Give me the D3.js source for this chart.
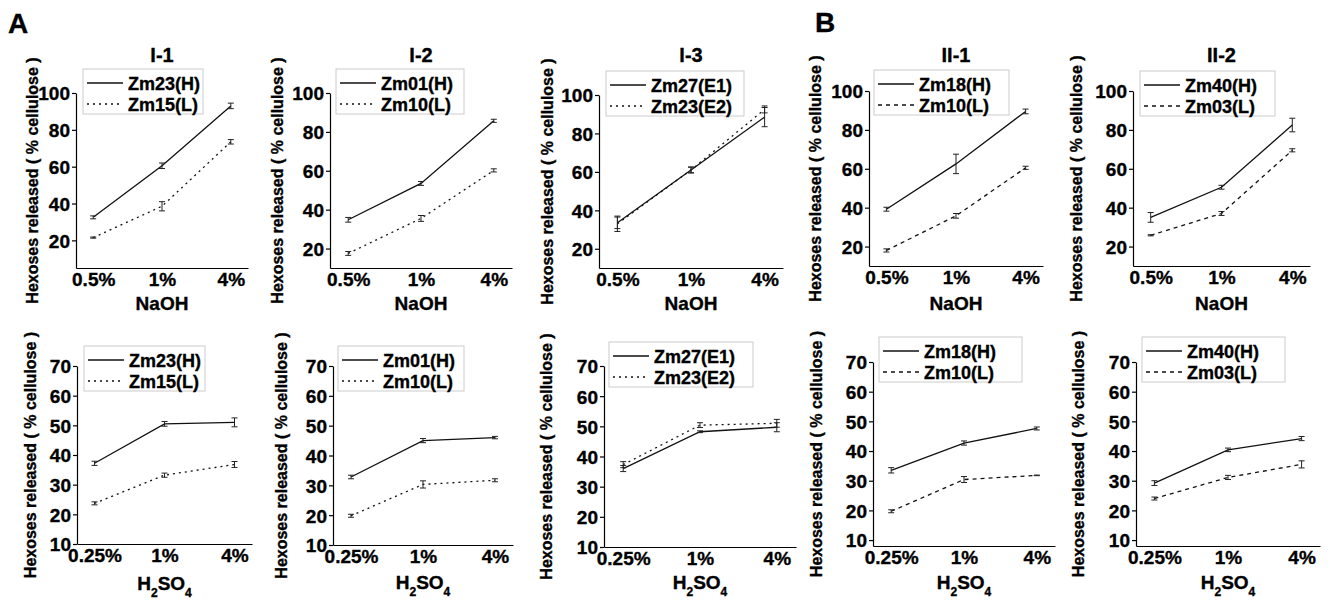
<!DOCTYPE html>
<meta charset="utf-8">
<style>
body { margin: 0; background: #fff; }
svg { font-family: Arial, "Liberation Sans", sans-serif; font-weight: bold; }
svg text { stroke: #000; stroke-width: 0.35px; }
.axis path, .axis line { stroke: #000; stroke-width: 1.2px; }
.axis text { font-size: 19px; font-weight: bold; fill: #000; }
.series { fill: none; stroke: #111; stroke-width: 1.3px; }
.err { stroke: #222; stroke-width: 1px; }
.legbox { fill: #fff; stroke: #ccc; stroke-width: 1px; }
</style>
<body>
<script src="https://d3js.org/d3.v7.min.js"></script>
<script>

// tick labels
var naohLevels = ["0.5%", "1%", "4%"];
var acidLevels = ["0.25%", "1%", "4%"];

// panel titles and legend names
var titles = ["I-1", "I-2", "I-3", "II-1", "II-2"];
var namesHi = ["Zm23(H)", "Zm01(H)", "Zm27(E1)", "Zm18(H)", "Zm40(H)"];
var namesLo = ["Zm15(L)", "Zm10(L)", "Zm23(E2)", "Zm10(L)", "Zm03(L)"];

// NaOH pretreatment, hexoses released (% cellulose)
var naohHi = [[32.5, 60.5, 93.0], [34.8, 53.5, 85.7], [33.5, 61.0, 88.5], [39.2, 62.5, 89.5], [35.0, 50.5, 82.5]];
var naohHiErr = [[0.8, 1.5, 1.5], [1.2, 1.0, 0.8], [3.0, 1.5, 5.0], [1.0, 5.0, 1.2], [2.5, 1.0, 3.5]];
var naohLo = [[21.5, 38.5, 73.5], [17.5, 35.5, 60.2], [33.0, 61.0, 92.5], [18.0, 35.8, 60.5], [25.8, 37.0, 69.5]];
var naohLoErr = [[0.3, 2.5, 1.2], [1.0, 1.5, 0.8], [4.0, 1.5, 1.8], [0.8, 1.2, 0.8], [0.3, 1.0, 0.8]];

// H2SO4 pretreatment
var acidHi = [[37.2, 50.5, 51.0], [32.8, 45.0, 46.0], [36.0, 48.2, 49.7], [33.5, 42.7, 47.6], [29.2, 40.4, 44.2]];
var acidHiErr = [[0.7, 0.8, 1.5], [0.6, 0.7, 0.4], [1.0, 0.3, 1.5], [0.9, 0.7, 0.5], [0.8, 0.6, 0.7]];
var acidLo = [[23.7, 33.2, 36.8], [19.8, 30.3, 31.7], [37.3, 50.4, 51.0], [19.7, 30.4, 31.8], [24.0, 31.1, 35.5]];
var acidLoErr = [[0.5, 0.7, 1.0], [0.5, 1.2, 0.5], [1.0, 0.8, 1.3], [0.5, 1.0, 0.1], [0.5, 0.7, 1.2]];

// y ticks
var naohTicks = [20, 40, 60, 80, 100];
var acidTicks = [10, 20, 30, 40, 50, 60, 70];

// layout: plot frames in page pixels
var topFrames = [
  {x0: 76, x1: 248, yt: 93, yb: 268, ymin: 5, ymax: 100, lx: 83, ly: 69, lw: 120, yl: 32, xl: 310},
  {x0: 330, x1: 512, yt: 93, yb: 268, ymin: 10, ymax: 100, lx: 336, ly: 69, lw: 128, yl: 277, xl: 310},
  {x0: 599, x1: 783, yt: 95, yb: 268, ymin: 10, ymax: 100, lx: 606, ly: 71, lw: 138, yl: 547, xl: 310},
  {x0: 869, x1: 1043, yt: 91, yb: 266, ymin: 10, ymax: 100, lx: 874, ly: 70, lw: 135, yl: 815, xl: 310},
  {x0: 1133, x1: 1310, yt: 91, yb: 266, ymin: 10, ymax: 100, lx: 1140, ly: 71, lw: 135, yl: 1076, xl: 310}
];
var botFrames = [
  {x0: 77, x1: 252, yt: 366, yb: 544, ymin: 10, ymax: 70, lx: 84, ly: 346, lw: 121, yl: 30, xl: 590},
  {x0: 333, x1: 513, yt: 366, yb: 545, ymin: 10, ymax: 70, lx: 338, ly: 346, lw: 126, yl: 281, xl: 589},
  {x0: 604, x1: 796, yt: 366, yb: 547, ymin: 10, ymax: 70, lx: 609, ly: 342, lw: 144, yl: 546, xl: 589},
  {x0: 873, x1: 1055, yt: 362, yb: 546, ymin: 8, ymax: 70, lx: 879, ly: 337, lw: 143, yl: 816, xl: 589},
  {x0: 1136, x1: 1320, yt: 362, yb: 546, ymin: 8, ymax: 70, lx: 1142, ly: 337, lw: 143, yl: 1078, xl: 589}
];
var loDash = ["2,4", "2,4", "2,4", "4,4", "4,4"];

var svg = d3.select("body").append("svg")
    .attr("width", 1330)
    .attr("height", 605);

function drawPanel(i, f, levels, ticks, hi, hiErr, lo, loErr, row) {
  var x = d3.scalePoint().domain(levels).range([f.x0, f.x1]).padding(0.25);
  var y = d3.scaleLinear().domain([f.ymin, f.ymax]).range([f.yb, f.yt]);
  var g = svg.append("g");

  g.append("g")
      .attr("class", "axis")
      .attr("transform", "translate(0," + f.yb + ")")
      .call(d3.axisBottom(x).tickSize(0).tickPadding(4))
      .call(function(a) { a.selectAll("text").attr("dy", "0.75em"); });
  g.append("g")
      .attr("class", "axis")
      .attr("transform", "translate(" + f.x0 + ",0)")
      .call(d3.axisLeft(y).tickValues(ticks).tickSize(4).tickPadding(2).tickSizeOuter(0))
      .call(function(a) { a.selectAll("text").attr("dy", "0.36em"); });

  var series = [
    {vals: hi, err: hiErr, dash: null},
    {vals: lo, err: loErr, dash: loDash[i]}
  ];
  var line = d3.line()
      .x(function(d) { return x(d.k); })
      .y(function(d) { return y(d.v); });

  series.forEach(function(s) {
    var pts = levels.map(function(k, j) { return {k: k, v: s.vals[j], e: s.err[j]}; });
    g.append("path")
        .datum(pts)
        .attr("class", "series")
        .attr("stroke-dasharray", s.dash)
        .attr("d", line);
    var eb = g.selectAll(null).data(pts).enter().append("g").attr("class", "err");
    eb.append("line")
        .attr("x1", function(d) { return x(d.k); })
        .attr("x2", function(d) { return x(d.k); })
        .attr("y1", function(d) { return y(d.v - d.e); })
        .attr("y2", function(d) { return y(d.v + d.e); });
    [-1, 1].forEach(function(sg) {
      eb.append("line")
          .attr("x1", function(d) { return x(d.k) - 3; })
          .attr("x2", function(d) { return x(d.k) + 3; })
          .attr("y1", function(d) { return y(d.v + sg * d.e); })
          .attr("y2", function(d) { return y(d.v + sg * d.e); });
    });
  });

  // legend
  var lg = g.append("g").attr("transform", "translate(" + f.lx + "," + f.ly + ")");
  lg.append("rect").attr("class", "legbox").attr("width", f.lw).attr("height", 45);
  [[namesHi[i], null, 14], [namesLo[i], loDash[i], 35]].forEach(function(r) {
    lg.append("line")
        .attr("class", "series")
        .attr("x1", 4).attr("x2", 40)
        .attr("y1", r[2]).attr("y2", r[2])
        .attr("stroke-dasharray", r[1]);
    lg.append("text")
        .attr("x", 45).attr("y", r[2] + 6.5)
        .style("font-size", "18px")
        .text(r[0]);
  });

  // y label
  svg.append("text")
      .attr("transform", "translate(" + (f.yl + 6) + "," + ((f.yt + f.yb) / 2) + ") rotate(-90)")
      .attr("text-anchor", "middle")
      .style("font-size", "16px")
      .text("Hexoses released ( % cellulose )");

  var cx = (f.x0 + f.x1) / 2;
  if (row === 0) {
    svg.append("text")
        .attr("x", cx).attr("y", 62)
        .attr("text-anchor", "middle")
        .style("font-size", "20px")
        .text(titles[i]);
    svg.append("text")
        .attr("x", cx).attr("y", f.xl)
        .attr("text-anchor", "middle")
        .style("font-size", "19px")
        .text("NaOH");
  } else {
    var t = svg.append("text")
        .attr("x", cx).attr("y", f.xl)
        .attr("text-anchor", "middle")
        .style("font-size", "19px");
    t.append("tspan").text("H");
    t.append("tspan").attr("dy", 7).style("font-size", "12px").text("2");
    t.append("tspan").attr("dy", -7).text("SO");
    t.append("tspan").attr("dy", 7).style("font-size", "12px").text("4");
  }
}

for (var i = 0; i < 5; i++) {
  drawPanel(i, topFrames[i], naohLevels, naohTicks, naohHi[i], naohHiErr[i], naohLo[i], naohLoErr[i], 0);
  drawPanel(i, botFrames[i], acidLevels, acidTicks, acidHi[i], acidHiErr[i], acidLo[i], acidLoErr[i], 1);
}

// panel letters
svg.append("text").attr("x", 8).attr("y", 33).style("font-size", "28px").text("A");
svg.append("text").attr("x", 815).attr("y", 32).style("font-size", "28px").text("B");

</script>
</body>
